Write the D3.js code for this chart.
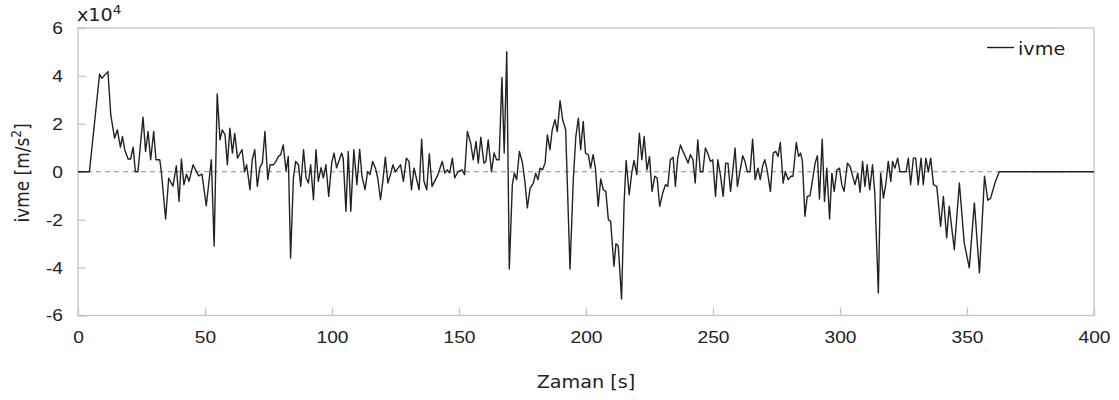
<!DOCTYPE html>
<html>
<head>
<meta charset="utf-8">
<script src="https://cdn.jsdelivr.net/npm/d3@7"></script>
<style>
  html, body { margin: 0; padding: 0; background: #fff; }
  svg { display: block; font-family: "DejaVu Sans", sans-serif; }
</style>
</head>
<body>
<svg id="chart" width="1119" height="400"></svg>
<script>
// Time [s]
const times = [0,4.5,8.5,9.4,11.8,12.9,14.4,15.5,16.7,17.5,18.4,19.7,20.7,21.7,22.6,23.6,25.6,26.6,27.6,28.6,29.8,30.7,32.2,32.8,34.5,35.7,37.4,38.7,39.8,40.7,41.7,42.7,43.7,45.3,46.2,47.5,48.8,50.5,52.5,53.6,54.8,
55.9,56.8,57.9,58.8,59.8,60.8,61.7,62.8,63.5,64.6,65.6,66.4,67.7,68.6,69.6,70.6,71.6,72.6,73.6,74.7,75.6,76.9,77.9,78.9,79.8,80.8,81.9,82.8,83.7,84.8,85.7,86.8,87.7,88.8,89.8,90.7,91.6,92.7,93.7,94.6,95.7,96.6,97.6,98.7,99.9,100.8,101.8,102.9,103.8,
104.4,105.5,106.4,107.4,108.6,109.8,110.9,111.8,113,114,115,116,117.1,118,119.1,120,121,122,123,124,124.9,126,127,128.1,129.3,130.3,131.3,132.3,133.2,134.3,135.3,136.2,137.3,138.3,139.4,140.4,141.7,143.4,144.4,145.4,146.3,147.4,148.3,149.6,151.2,152.2,153.3,154.6,155.6,156.7,157.6,158.6,159.8,160.6,161.5,162.8,163.8,164.8,165.8,166.9,167.8,168.8,169.8,171,171.8,172.7,173.8,175,176,176.9,178,179.3,180.2,181.1,181.9,182.9,183.9,184.8,185.8,186.7,187.8,188.7,189.8,190.8,192,193.7,195,196,197,197.9,198.9,199.8,200.9,201.8,202.8,203.7,204.8,205.8,206.8,207.8,208.8,209.7,211,211.8,212.7,214,215,215.8,217,218,218.9,220,221,222,222.9,224,225,226,227.1,228,229,230.2,231.3,232.2,233.2,234.3,235.2,236.1,237.2,238.2,239.1,240.2,241.1,242.1,243,244,245,246,247,247.9,249,249.9,251,251.9,253,254,255,255.9,256.9,257.7,258.7,259.6,260.6,261.7,262.6,263.5,264.6,265.6,266.6,267.7,268.6,269.5,270.4,271.3,272.6,273.7,274.7,275.6,276.5,277.6,278.5,279.6,280.6,281.5,282.8,283.7,284.5,285.2,286.2,287.1,288.2,289.1,290.2,291.1,291.9,293,293.9,294.8,295.9,296.8,297.7,298.8,299.8,300.7,301.6,302.9,304,305,305.9,307,307.9,308.9,309.8,310.7,311.7,312.8,313.7,315.1,316,317.1,318.1,319,320,320.7,321.6,322.7,323.6,324.9,326,326.9,327.8,328.9,329.8,330.8,331.9,332.8,333.8,334.8,335.7,336.8,338.1,339.6,340.7,342,343,345,347,348.9,350.9,352.9,354.9,356.9,358.2,359.3,361,362.7,400];

// ivme [x10^4 m/s^2]
const ivme = [0,0,4.08,3.9,4.18,2.37,1.4,1.75,1.03,1.47,0.92,0.53,0.53,1.03,0,0,2.28,0.85,1.68,0.5,1.68,0.5,0.5,0,-1.97,-0.27,-0.6,0.25,-1.24,0.53,-0.54,-0.1,-0.4,0.29,0.1,-0.17,-0.1,-1.42,0.5,-3.1,3.25,
1.33,1.75,1.54,0.29,1.82,0.78,1.6,0.57,0.71,0.92,0,0.29,-0.75,0.5,0.92,-0.61,0.17,0.38,1.68,-0.33,0.29,0.29,0.43,0.64,0.71,1.12,0.04,0.64,-3.6,-0.26,0.43,0.29,-0.61,0.92,-0.26,-0.47,0.29,-1.17,0.92,-0.4,0.17,-0.26,0.29,-1.03,0.38,0.78,0.17,0.5,0.78,
0.57,-1.65,0.85,-1.65,0.92,-0.54,0.94,-0.19,-0.75,0,-0.12,0.43,0.15,-0.26,-1.17,-0.4,0.61,-0.47,-0.12,0.29,0,0.15,0.29,-0.4,0.57,0.43,-0.75,0.15,-0.26,-0.75,1.36,-0.4,-0.75,0.75,-0.61,-0.4,-0.12,0.43,-0.05,0.08,-0.05,0.57,-0.26,0,0.08,-0.12,1.68,1.19,0.5,1.26,0.36,1.44,0.36,0.43,1.33,0,0.78,0.5,0.5,3.94,0.78,5.01,-4.06,-0.54,-0.06,-0.33,0.85,0.36,-0.47,-1.51,-0.68,-0.47,-0.06,-0.33,0.15,0.08,0.36,1.54,0.92,1.75,2.17,1.68,2.97,2.17,1.75,-4.06,-0.33,1.47,2.24,0.92,2.1,0.78,0.71,0.15,0.71,0.15,-1.44,-0.3,-0.75,-0.82,-2.0,-2.07,-3.94,-3.0,-3.1,-5.31,-1.3,0.47,-0.96,-0.06,0.47,-0.12,1.61,0.5,1.47,0.08,0.64,-0.82,-0.19,-0.26,-1.44,-0.89,-0.54,-0.61,0.5,0.61,-0.61,0.57,1.12,0.85,0.64,0.36,0.71,0.5,-0.47,1.33,0,0,0.99,0.78,0.43,0.5,-1.03,0.5,-0.19,-1.03,0.36,0.36,-0.82,-0.06,0.99,-0.61,0,0.67,0.43,0,0,1.36,-0.33,0.15,-0.33,0.22,0.5,0.08,-0.82,0.78,0.85,0.64,1.22,-0.47,0,-0.33,-0.19,-0.19,1.22,0.64,0.78,0.43,-1.86,-1.03,-1.0,-0.4,0.36,0.67,-1.14,1.36,-1.24,0.15,-1.97,-0.06,-0.82,0.08,0.15,-0.54,-0.82,0.36,0.22,-0.19,-0.54,-0.06,-0.85,0.43,-0.61,0.29,-0.75,0.29,-0.89,-5.06,-0.06,-1.1,-0.47,0.43,-0.4,0.43,0.15,0.57,0,0,0,0.57,-0.54,0.57,0.57,-0.54,0.57,-0.54,0.57,0,0.57,-0.54,-0.61,-2.28,-1.03,-2.76,-1.44,-3.25,-0.47,-2.97,-4.01,-1.3,-4.22,-0.19,-1.19,-1.1,-0.47,0,0];

const xTicks = [0,50,100,150,200,250,300,350,400];
const yTicks = [-6,-4,-2,0,2,4,6];
const seriesName = "ivme";
const xTitle = "Zaman [s]";

const svg = d3.select("#chart");
const L = 78, R = 1094, T = 28, B = 315.5;
const SX = 1.13; // horizontal stretch of the lettering in the reference

const x = d3.scaleLinear().domain([0,400]).range([L,R]);
const y = d3.scaleLinear().domain([-6,6]).range([B,T]);

const textColor = "#222";
const axisGrey = "#c4c4c4";

// frame
svg.append("rect").attr("x",L).attr("y",T).attr("width",R-L).attr("height",B-T)
  .attr("fill","none").attr("stroke",axisGrey).attr("stroke-width",1.3);

// x axis ticks (inward)
const xAxis = d3.axisBottom(x).tickValues(xTicks).tickSize(-8).tickPadding(24).tickFormat(d=>String(d));
const gx = svg.append("g").attr("transform",`translate(0,${B})`).call(xAxis);
gx.select(".domain").remove();
gx.selectAll(".tick line").attr("stroke",axisGrey).attr("stroke-width",1.3);
gx.selectAll(".tick text").attr("fill",textColor).style("font-size","17px").attr("dy","0.2em")
  .attr("transform",`scale(${SX},1)`);

// y axis ticks (inward)
const yAxis = d3.axisLeft(y).tickValues(yTicks).tickSize(-8).tickPadding(13.3).tickFormat(d=>String(d));
const gy = svg.append("g").attr("transform",`translate(${L},0)`).call(yAxis);
gy.select(".domain").remove();
gy.selectAll(".tick line").attr("stroke",axisGrey).attr("stroke-width",1.3);
gy.selectAll(".tick text").attr("fill",textColor).style("font-size","17px")
  .attr("transform",`scale(${SX},1)`);

// zero dashed line
svg.append("line").attr("x1",L).attr("x2",R).attr("y1",y(0)).attr("y2",y(0))
  .attr("stroke","#8a8a8a").attr("stroke-width",1.2).attr("stroke-dasharray","5,4");

// data line
const data = times.map((t,i)=>({t, v: ivme[i]}));
const line = d3.line().x(d=>x(d.t)).y(d=>y(d.v));
svg.append("path").datum(data).attr("d",line)
  .attr("fill","none").attr("stroke","#222").attr("stroke-width",1.4).attr("stroke-linejoin","round");

// exponent label
const ex = svg.append("text").attr("transform",`translate(${L-1},21) scale(${SX},1)`)
  .attr("fill",textColor).style("font-size","17px");
ex.append("tspan").text("x10");
ex.append("tspan").attr("dy",-7).style("font-size","12px").text("4");

// y title
const yt = svg.append("text").attr("transform",`translate(28.5,173) scale(${SX},1) rotate(-90)`)
  .attr("text-anchor","middle").attr("fill",textColor).style("font-size","17px");
yt.append("tspan").text("ivme [m/s");
yt.append("tspan").attr("dy",-7).style("font-size","12px").text("2");
yt.append("tspan").attr("dy",7).text("]");

// x title
svg.append("text").attr("transform",`translate(${(L+R)/2},388) scale(${SX},1)`).attr("text-anchor","middle")
  .attr("fill",textColor).style("font-size","17px").text(xTitle);

// legend
svg.append("line").attr("x1",987).attr("x2",1014).attr("y1",47.5).attr("y2",47.5)
  .attr("stroke","#222").attr("stroke-width",1.4);
svg.append("text").attr("transform",`translate(1018,55) scale(${SX},1)`).attr("fill",textColor)
  .style("font-size","17px").text(seriesName);
</script>
</body>
</html>
